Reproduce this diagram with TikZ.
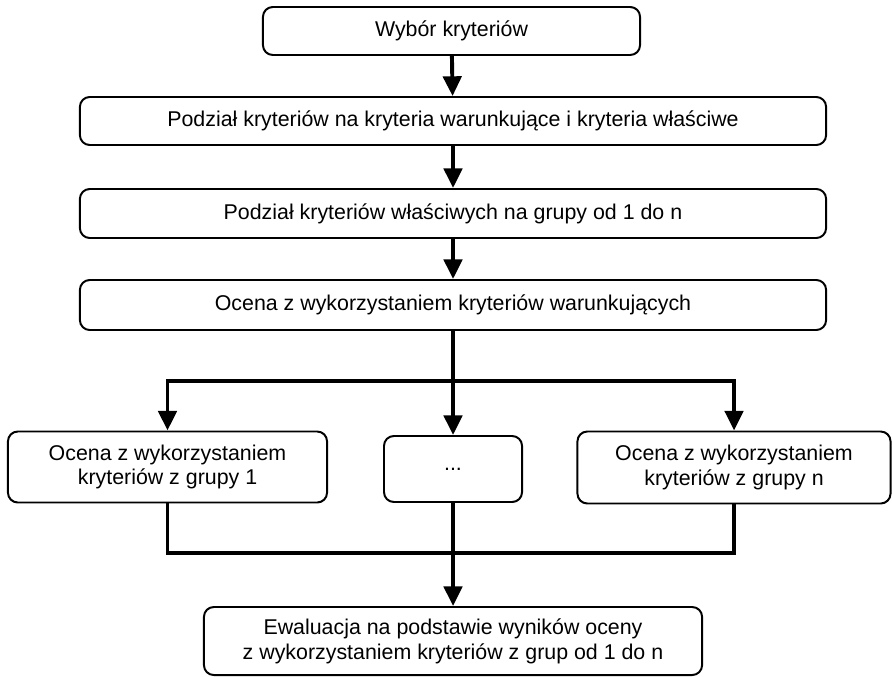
\documentclass[tikz,border=0pt]{standalone}
\usepackage{fontspec}
\setmainfont{Liberation Sans}
\usetikzlibrary{arrows.meta}

\tikzset{
  stagebox/.style={draw, line width=1.4pt, rounded corners=7pt, align=center,
    inner sep=0pt, font=\fontsize{15.2pt}{17.7pt}\selectfont},
  flow/.style={line width=2.8pt, -{Triangle[width=13pt,length=14pt]}},
  link/.style={line width=2.8pt}
}

\begin{document}
\begin{tikzpicture}[x=0.025cm, y=-0.025cm]
\useasboundingbox (0,0) rectangle (892,676);

% draw boxes
\node[stagebox, minimum width=9.425cm, minimum height=1.2cm] (sel) at (451.5, 31) {Wybór kryteriów};
\node[stagebox, minimum width=18.65cm, minimum height=1.2cm] (split) at (453, 121) {Podział kryteriów na kryteria warunkujące i kryteria właściwe};
\node[stagebox, minimum width=18.65cm, minimum height=1.225cm] (groups) at (453, 213.5) {Podział kryteriów właściwych na grupy od 1 do n};
\node[stagebox, minimum width=18.65cm, minimum height=1.25cm] (cond) at (453, 305) {Ocena z wykorzystaniem kryteriów warunkujących};

\node[stagebox, minimum width=7.975cm, minimum height=1.775cm] (g1) at (167.5, 467) {Ocena z wykorzystaniem\\kryteriów z grupy 1};
\node[stagebox, minimum width=3.45cm, minimum height=1.65cm] (gdots) at (453, 469) {...};
\node[stagebox, minimum width=7.825cm, minimum height=1.8cm] (gn) at (734, 467.5) {Ocena z wykorzystaniem\\kryteriów z grupy n};

\node[stagebox, minimum width=12.45cm, minimum height=1.7cm] (eval) at (453, 641) {Ewaluacja na podstawie wyników oceny\\z wykorzystaniem kryteriów z grup od 1 do n};

% branch points
\coordinate (fork) at (453, 381);
\coordinate (join) at (453, 553);

% draw arrows
\draw[flow] (sel) -- (split);
\draw[flow] (split) -- (groups);
\draw[flow] (groups) -- (cond);

\draw[link] (cond.south) -- (fork);
\draw[flow] (fork) -| (g1.north);
\draw[flow] (fork) -| (gn.north);
\draw[flow] (fork) -- (gdots.north);

\draw[link] (g1.south) |- (join) -| (gn.south);
\draw[link] (gdots.south) -- (join);
\draw[flow] (join) -- (eval.north);

\end{tikzpicture}
\end{document}
